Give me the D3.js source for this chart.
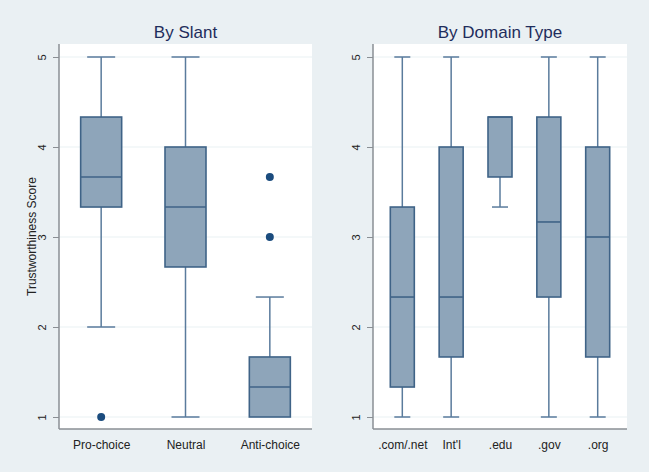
<!DOCTYPE html>
<html>
<head>
<meta charset="utf-8">
<script src="https://cdn.jsdelivr.net/npm/d3@7"></script>
<style>
  html, body { margin: 0; padding: 0; background: #eaf0f3; }
  svg { display: block; }
  text { font-family: "Liberation Sans", Arial, Helvetica, sans-serif; }
</style>
</head>
<body>
<svg id="chart" width="649" height="472"></svg>
<script>
// ---- Data ----
const yTicks = [1, 2, 3, 4, 5];

const slantCategories = ["Pro-choice", "Neutral", "Anti-choice"];
const slantQ1       = [3.333, 2.667, 1.0];
const slantMedian   = [3.667, 3.333, 1.333];
const slantQ3       = [4.333, 4.0, 1.667];
const slantLowWhisk = [2.0, 1.0, 1.0];
const slantHiWhisk  = [5.0, 5.0, 2.333];
const slantOutliers = [[1.0], [], [3.0, 3.667]];

const domainCategories = [".com/.net", "Int'l", ".edu", ".gov", ".org"];
const domainQ1       = [1.333, 1.667, 3.667, 2.333, 1.667];
const domainMedian   = [2.333, 2.333, 4.333, 3.167, 3.0];
const domainQ3       = [3.333, 4.0, 4.333, 4.333, 4.0];
const domainLowWhisk = [1.0, 1.0, 3.333, 1.0, 1.0];
const domainHiWhisk  = [5.0, 5.0, 4.333, 5.0, 5.0];
const domainOutliers = [[], [], [], [], []];

// ---- Styles ----
const boxFill = "#8ea5ba";
const boxStroke = "#3f6387";
const whiskStroke = "#5a7b9c";
const dotFill = "#1b4c7e";
const titleColor = "#1f2d5c";
const gridColor = "#e9f1f3";

const svg = d3.select("#chart");

const y = d3.scaleLinear().domain([1, 5]).range([417, 57]);

function panel(opts) {
  const { x0, x1, top, bottom, title, cats, q1, med, q3, lo, hi, outs,
          padding, boxW, capW, yLabel } = opts;
  const g = svg.append("g");
  // plot region
  g.append("rect").attr("x", x0).attr("y", top)
    .attr("width", x1 - x0).attr("height", bottom - top).attr("fill", "#ffffff");

  const x = d3.scalePoint().domain(cats).range([x0, x1]).padding(padding);

  // gridlines
  g.selectAll(".grid").data(yTicks).enter().append("line")
    .attr("x1", x0).attr("x2", x1)
    .attr("y1", d => y(d)).attr("y2", d => y(d))
    .attr("stroke", gridColor).attr("stroke-width", 1.2);

  // y axis
  const yAxis = d3.axisLeft(y).tickValues(yTicks).tickSize(6).tickPadding(6).tickFormat(d3.format("d"));
  const ya = g.append("g").attr("transform", `translate(${x0},0)`).call(yAxis);
  ya.select(".domain").attr("d", `M0,${top}V${bottom}`).attr("stroke", "#8a8f94").attr("stroke-width", 1.5);
  ya.selectAll(".tick line").attr("stroke", "#8a8f94");
  ya.selectAll(".tick text")
    .attr("font-size", 11).attr("fill", "#222")
    .attr("text-anchor", "middle")
    .attr("x", null).attr("dy", null)
    .attr("transform", "translate(-16,0) rotate(-90)")
    .attr("dominant-baseline", "middle");

  // x axis
  const xAxis = d3.axisBottom(x).tickSize(0).tickPadding(11);
  const xa = g.append("g").attr("transform", `translate(0,${bottom})`).call(xAxis);
  xa.select(".domain").attr("d", `M${x0},0H${x1}`).attr("stroke", "#8a8f94").attr("stroke-width", 1.5);
  xa.selectAll(".tick text").attr("font-size", 12).attr("fill", "#222");

  // title
  g.append("text").attr("x", (x0 + x1) / 2).attr("y", 38)
    .attr("text-anchor", "middle").attr("font-size", 17).attr("fill", titleColor)
    .text(title);

  if (yLabel) {
    g.append("text")
      .attr("transform", `translate(36,${(top + bottom) / 2}) rotate(-90)`)
      .attr("text-anchor", "middle").attr("font-size", 12).attr("fill", "#222")
      .text(yLabel);
  }

  cats.forEach((c, i) => {
    const cx = x(c);
    // whiskers
    if (hi[i] > q3[i]) {
      g.append("line").attr("x1", cx).attr("x2", cx).attr("y1", y(q3[i])).attr("y2", y(hi[i]))
        .attr("stroke", whiskStroke).attr("stroke-width", 1.5);
      g.append("line").attr("x1", cx - capW / 2).attr("x2", cx + capW / 2)
        .attr("y1", y(hi[i])).attr("y2", y(hi[i]))
        .attr("stroke", whiskStroke).attr("stroke-width", 1.5);
    }
    if (lo[i] < q1[i]) {
      g.append("line").attr("x1", cx).attr("x2", cx).attr("y1", y(q1[i])).attr("y2", y(lo[i]))
        .attr("stroke", whiskStroke).attr("stroke-width", 1.5);
      g.append("line").attr("x1", cx - capW / 2).attr("x2", cx + capW / 2)
        .attr("y1", y(lo[i])).attr("y2", y(lo[i]))
        .attr("stroke", whiskStroke).attr("stroke-width", 1.5);
    }
    // box
    g.append("rect").attr("x", cx - boxW / 2).attr("y", y(q3[i]))
      .attr("width", boxW).attr("height", y(q1[i]) - y(q3[i]))
      .attr("fill", boxFill).attr("stroke", boxStroke).attr("stroke-width", 1.6);
    // median
    g.append("line").attr("x1", cx - boxW / 2).attr("x2", cx + boxW / 2)
      .attr("y1", y(med[i])).attr("y2", y(med[i]))
      .attr("stroke", boxStroke).attr("stroke-width", 1.6);
    // outliers
    outs[i].forEach(v => {
      g.append("circle").attr("cx", cx).attr("cy", y(v)).attr("r", 4)
        .attr("fill", dotFill);
    });
  });
}

panel({
  x0: 59, x1: 312, top: 44, bottom: 429, title: "By Slant",
  cats: slantCategories, q1: slantQ1, med: slantMedian, q3: slantQ3,
  lo: slantLowWhisk, hi: slantHiWhisk, outs: slantOutliers,
  padding: 0.5, boxW: 41, capW: 28, yLabel: "Trustworthiness Score"
});

panel({
  x0: 373, x1: 627, top: 44, bottom: 429, title: "By Domain Type",
  cats: domainCategories, q1: domainQ1, med: domainMedian, q3: domainQ3,
  lo: domainLowWhisk, hi: domainHiWhisk, outs: domainOutliers,
  padding: 0.6, boxW: 24, capW: 16, yLabel: null
});
</script>
</body>
</html>
